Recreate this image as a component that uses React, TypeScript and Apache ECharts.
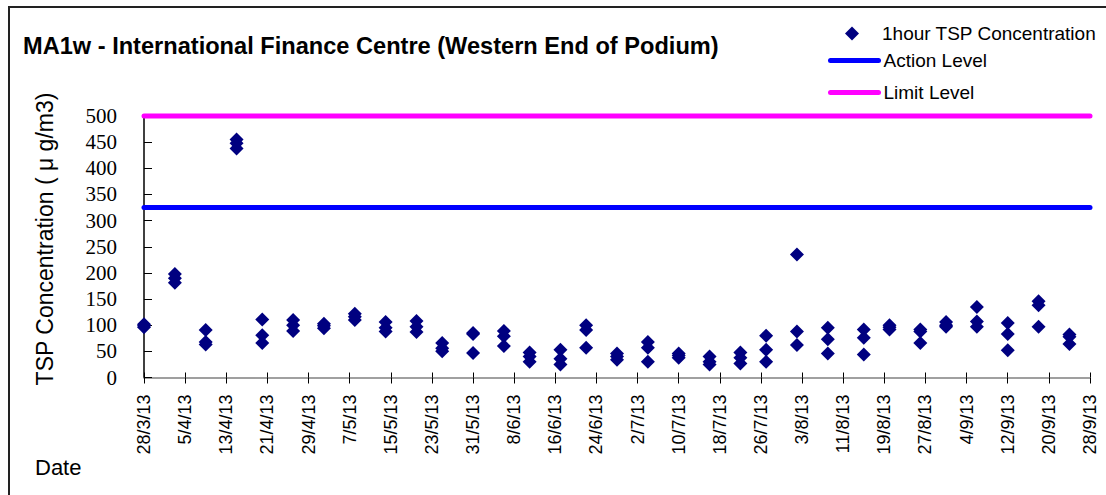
import React, { useEffect, useRef } from 'react';
import * as echarts from 'echarts';

// ---- Data ----
const chartTitle = 'MA1w - International Finance Centre (Western End of Podium)';
const startDate = '2013-03-28';
const endDate = '2013-09-28';
const tickStepDays = 8;

const sampleDates = [
  '2013-03-28', '2013-04-03', '2013-04-09', '2013-04-15', '2013-04-20', '2013-04-26',
  '2013-05-02', '2013-05-08', '2013-05-14', '2013-05-20', '2013-05-25', '2013-05-31',
  '2013-06-06', '2013-06-11', '2013-06-17', '2013-06-22', '2013-06-28', '2013-07-04',
  '2013-07-10', '2013-07-16', '2013-07-22', '2013-07-27', '2013-08-02', '2013-08-08',
  '2013-08-15', '2013-08-20', '2013-08-26', '2013-08-31', '2013-09-06', '2013-09-12',
  '2013-09-18', '2013-09-24',
];
const reading1 = [102, 198, 91, 455, 111, 110, 103, 122, 106, 108, 66, 85, 89, 48, 53, 100, 46, 68, 46, 40, 48, 80, 235, 95, 92, 100, 92, 106, 135, 104, 146, 82];
const reading2 = [99, 190, 68, 448, 81, 100, 99, 116, 95, 97, 56, 83, 79, 40, 36, 91, 40, 57, 42, 30, 38, 53, 88, 73, 76, 96, 88, 100, 107, 83, 138, 78];
const reading3 = [96, 181, 63, 438, 66, 89, 94, 110, 88, 87, 50, 47, 60, 30, 25, 57, 34, 30, 38, 25, 27, 30, 62, 46, 44, 92, 66, 97, 97, 52, 97, 64];

const actionLevel = 325;
const limitLevel = 500;
const yMin = 0;
const yMax = 500;
const yStep = 50;

// ---- helpers ----
const DAY = 86400000;
const toUTC = (s: string) => {
  const [y, m, d] = s.split('-').map(Number);
  return Date.UTC(y, m - 1, d);
};
const dayOf = (s: string) => (toUTC(s) - toUTC(startDate)) / DAY;
const fmtDay = (v: number) => {
  const dt = new Date(toUTC(startDate) + v * DAY);
  return `${dt.getUTCDate()}/${dt.getUTCMonth() + 1}/${dt.getUTCFullYear() % 100}`;
};

const sansFont = 'Liberation Sans';
const serifFont = 'Liberation Serif';

export default function App() {
  const ref = useRef<HTMLDivElement>(null);

  useEffect(() => {
    if (!ref.current) return;
    const chart = echarts.init(ref.current, undefined, { renderer: 'svg' });
    const xMax = dayOf(endDate);

    const scatterData: number[][] = [];
    sampleDates.forEach((d, i) => {
      const x = dayOf(d);
      scatterData.push([x, reading1[i]]);
      scatterData.push([x, reading2[i]]);
      scatterData.push([x, reading3[i]]);
    });

    const legendText = { fontSize: 19, fontFamily: sansFont, color: '#000' };

    chart.setOption({
      animation: false,
      backgroundColor: '#ffffff',
      title: {
        text: chartTitle,
        left: 23,
        top: 34,
        padding: 0,
        textStyle: { fontFamily: sansFont, fontWeight: 'bold', fontSize: 23.6, color: '#000' },
      },
      legend: [
        {
          data: ['1hour TSP Concentration'],
          left: 845,
          top: 24,
          orient: 'vertical',
          itemWidth: 14,
          itemHeight: 14,
          padding: 0,
          textStyle: { ...legendText, padding: [0, 0, 0, 18] },
        },
        {
          data: ['Action Level', 'Limit Level'],
          left: 828,
          top: 51,
          orient: 'vertical',
          itemWidth: 48,
          itemHeight: 14,
          itemGap: 13,
          padding: 0,
          itemStyle: { opacity: 0 },
          lineStyle: { width: 5, cap: 'round' },
          textStyle: legendText,
        },
      ],
      grid: { left: 144, right: 16, top: 116, bottom: 117.5, containLabel: false },
      xAxis: [
        {
          type: 'value',
          min: 0,
          max: xMax,
          interval: tickStepDays,
          axisLine: { show: true, lineStyle: { color: '#808080', width: 1.5 } },
          axisTick: { show: true, length: 6, lineStyle: { color: '#000' } },
          axisLabel: {
            rotate: 90,
            margin: 17,
            fontSize: 18,
            fontFamily: sansFont,
            color: '#000',
            formatter: (v: number) => fmtDay(v),
          },
          splitLine: { show: false },
        },
        {
          type: 'value',
          position: 'top',
          offset: -261.5,
          min: 0,
          max: xMax,
          interval: tickStepDays,
          axisLine: { show: false },
          axisTick: { show: true, length: 5, lineStyle: { color: '#000' } },
          axisLabel: { show: false },
          splitLine: { show: false },
        },
      ],
      yAxis: {
        type: 'value',
        min: yMin,
        max: yMax,
        interval: yStep,
        axisLine: { show: true, lineStyle: { color: '#000', width: 1.5 } },
        axisTick: { show: true, inside: true, length: 8, lineStyle: { color: '#000' } },
        axisLabel: { margin: 27, fontSize: 21, fontFamily: serifFont, color: '#000' },
        splitLine: { show: false },
      },
      graphic: [
        {
          type: 'rect',
          silent: true,
          z: -1,
          shape: { x: 9, y: 7, width: 1200, height: 600 },
          style: { fill: 'none', stroke: '#222', lineWidth: 2 },
        },
        {
          type: 'text',
          x: 45,
          y: 239,
          rotation: Math.PI / 2,
          style: {
            text: 'TSP Concentration ( μ g/m3)',
            fontFamily: sansFont,
            fontSize: 23,
            fill: '#000',
            align: 'center',
            verticalAlign: 'middle',
          },
        },
        {
          type: 'text',
          x: 35,
          y: 467,
          style: {
            text: 'Date',
            fontFamily: sansFont,
            fontSize: 22,
            fill: '#000',
            align: 'left',
            verticalAlign: 'middle',
          },
        },
      ],
      series: [
        {
          name: 'Action Level',
          type: 'line',
          data: [[0, actionLevel], [xMax, actionLevel]],
          symbol: 'none',
          clip: false,
          lineStyle: { color: '#0000ff', width: 5, cap: 'round' },
          itemStyle: { color: '#0000ff' },
          z: 2,
        },
        {
          name: 'Limit Level',
          type: 'line',
          data: [[0, limitLevel], [xMax, limitLevel]],
          symbol: 'none',
          clip: false,
          lineStyle: { color: '#ff00ff', width: 5, cap: 'round' },
          itemStyle: { color: '#ff00ff' },
          z: 2,
        },
        {
          name: '1hour TSP Concentration',
          type: 'scatter',
          symbol: 'diamond',
          symbolSize: 14,
          itemStyle: { color: '#000080', opacity: 1 },
          data: scatterData,
          z: 3,
        },
      ],
    });

    return () => chart.dispose();
  }, []);

  return (
    <div
      ref={ref}
      style={{ position: 'absolute', left: 0, top: 0, width: 1106, height: 495, background: '#fff' }}
    />
  );
}
